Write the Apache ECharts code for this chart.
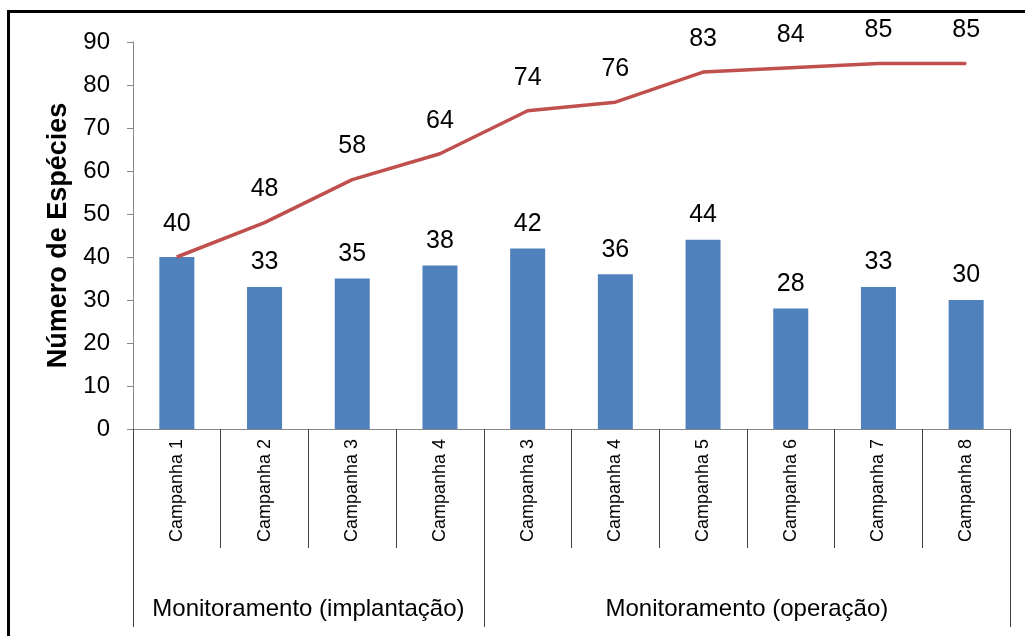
<!DOCTYPE html>
<html>
<head>
<meta charset="utf-8">
<script src="https://cdn.jsdelivr.net/npm/echarts@6/dist/echarts.min.js"></script>
<style>html,body{margin:0;padding:0;background:#fff;}#c{width:1025px;height:636px;}</style>
</head>
<body>
<div id="c"></div>
<script>
const categories = ['Campanha 1','Campanha 2','Campanha 3','Campanha 4','Campanha 3','Campanha 4','Campanha 5','Campanha 6','Campanha 7','Campanha 8'];
const speciesPerCampaign = [40,33,35,38,42,36,44,28,33,30];
const cumulativeSpecies = [40,48,58,64,74,76,83,84,85,85];
const groupNames = ['Monitoramento (implantação)','Monitoramento (operação)'];
const groupSizes = [4,6];
const yTicks = [0,10,20,30,40,50,60,70,80,90];

const font = 'Arial, "Liberation Sans", sans-serif';

// group boundaries and centers in category units
const groupBounds = [0];
const groupCenters = [];
groupSizes.forEach(function(s){
  const start = groupBounds[groupBounds.length-1];
  groupCenters.push(start + s/2);
  groupBounds.push(start + s);
});

const chart = echarts.init(document.getElementById('c'), null, {renderer:'canvas'});
chart.setOption({
  animation: false,
  backgroundColor: '#fff',
  textStyle: {fontFamily: font},
  graphic: [{
    type: 'rect', z: 100,
    shape: {x: 8.5, y: 11.5, width: 1100, height: 700},
    style: {fill: 'none', stroke: '#000', lineWidth: 3}
  }],
  grid: {left: 133, right: 15, top: 42, bottom: 207, containLabel: false},
  xAxis: [{
    type: 'category',
    data: categories,
    boundaryGap: true,
    axisLine: {show: true, lineStyle: {color: '#868686', width: 1}},
    axisTick: {show: true, length: 119, interval: 0, lineStyle: {color: '#404040', width: 1}},
    axisLabel: {rotate: 90, interval: 0, margin: 10, fontSize: 18, color: '#000', fontFamily: font}
  }, {
    type: 'value',
    position: 'bottom',
    min: 0,
    max: categories.length,
    axisLine: {show: false},
    splitLine: {show: false},
    axisTick: {show: true, length: 198, customValues: groupBounds, lineStyle: {color: '#404040', width: 1}},
    axisLabel: {
      customValues: groupCenters,
      margin: 168,
      fontSize: 24,
      color: '#000',
      fontFamily: font,
      formatter: function(v){
        const i = groupCenters.indexOf(v);
        return i >= 0 ? groupNames[i] : '';
      }
    }
  }],
  yAxis: {
    type: 'value',
    min: yTicks[0],
    max: yTicks[yTicks.length-1],
    interval: 10,
    name: 'Número de Espécies',
    nameLocation: 'middle',
    nameGap: 58,
    nameTextStyle: {fontSize: 27, fontWeight: 'bold', color: '#000', fontFamily: font},
    axisLine: {show: true, lineStyle: {color: '#868686', width: 1}},
    axisTick: {show: true, length: 6, lineStyle: {color: '#868686'}},
    axisLabel: {fontSize: 24, color: '#000', margin: 23, fontFamily: font},
    splitLine: {show: false}
  },
  series: [{
    type: 'bar',
    data: speciesPerCampaign.map(function(v, i){
      return i === 0 ? {value: v, label: {show: false}} : v;
    }),
    barWidth: 35,
    itemStyle: {color: '#4F81BD'},
    label: {show: true, position: 'top', distance: 12, fontSize: 25, color: '#000', fontFamily: font}
  }, {
    type: 'line',
    data: cumulativeSpecies,
    showSymbol: true,
    symbol: 'circle',
    symbolSize: 1,
    lineStyle: {color: '#C0504D', width: 3.5},
    itemStyle: {color: '#C0504D'},
    label: {show: true, position: 'top', distance: 20, fontSize: 25, color: '#000', fontFamily: font},
    z: 3
  }]
});
</script>
</body>
</html>
